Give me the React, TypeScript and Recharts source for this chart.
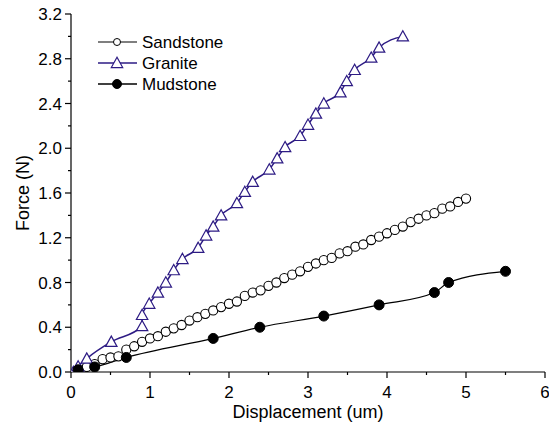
import React from 'react';
import { LineChart, Line, XAxis, YAxis, Label } from 'recharts';

const FONT = '"Liberation Sans", Arial, sans-serif';
const GRANITE_COLOR = '#2D1B84';

const sandstoneX = [0.1, 0.2, 0.3, 0.4, 0.5, 0.6, 0.7, 0.8, 0.9, 1.0, 1.1, 1.2, 1.3, 1.4, 1.5, 1.6, 1.7, 1.8, 1.9, 2.0, 2.1, 2.2, 2.3, 2.4, 2.5, 2.6, 2.7, 2.8, 2.9, 3.0, 3.1, 3.2, 3.3, 3.4, 3.5, 3.6, 3.7, 3.8, 3.9, 4.0, 4.1, 4.2, 4.3, 4.4, 4.5, 4.6, 4.7, 4.8, 4.9, 5.0];
const sandstoneY = [0.02, 0.045, 0.07, 0.115, 0.13, 0.14, 0.2, 0.23, 0.27, 0.3, 0.32, 0.36, 0.39, 0.42, 0.46, 0.49, 0.52, 0.55, 0.58, 0.61, 0.63, 0.68, 0.71, 0.73, 0.77, 0.8, 0.84, 0.87, 0.9, 0.94, 0.97, 1.0, 1.02, 1.06, 1.08, 1.12, 1.14, 1.18, 1.21, 1.24, 1.27, 1.3, 1.34, 1.37, 1.4, 1.42, 1.46, 1.48, 1.52, 1.55];

const graniteX = [0.03, 0.09, 0.2, 0.51, 0.9, 0.9, 0.99, 1.1, 1.2, 1.3, 1.41, 1.61, 1.71, 1.8, 1.9, 2.1, 2.2, 2.3, 2.51, 2.61, 2.71, 2.9, 3.0, 3.1, 3.2, 3.41, 3.49, 3.59, 3.8, 3.9, 4.2];
const graniteY = [0.0, 0.05, 0.12, 0.27, 0.41, 0.51, 0.61, 0.71, 0.8, 0.91, 1.01, 1.11, 1.22, 1.3, 1.4, 1.51, 1.61, 1.7, 1.81, 1.91, 2.01, 2.11, 2.21, 2.31, 2.4, 2.5, 2.6, 2.7, 2.81, 2.9, 3.0];

const mudstoneX = [0.09, 0.3, 0.7, 1.8, 2.39, 3.2, 3.9, 4.6, 4.78, 5.5];
const mudstoneY = [0.02, 0.045, 0.13, 0.3, 0.4, 0.5, 0.6, 0.71, 0.8, 0.9];

const xTicks = [0, 0.5, 1, 1.5, 2, 2.5, 3, 3.5, 4, 4.5, 5, 5.5, 6];
const yTicks = [0, 0.2, 0.4, 0.6, 0.8, 1.0, 1.2, 1.4, 1.6, 1.8, 2.0, 2.2, 2.4, 2.6, 2.8, 3.0, 3.2];

const zip = (xs: number[], ys: number[]) => xs.map((x, i) => ({ x, y: ys[i] }));
const sandstoneData = zip(sandstoneX, sandstoneY);
const graniteData = zip(graniteX, graniteY);
const mudstoneData = zip(mudstoneX, mudstoneY);

const Triangle = ({ cx, cy, color }: any) => {
  const s = 5.7;
  const pts = `${cx},${cy - s} ${cx - s},${cy + s * 0.8} ${cx + s},${cy + s * 0.8}`;
  return <polygon points={pts} fill="#fff" stroke={color} strokeWidth={1.2} />;
};

const graniteDot = (props: any) => {
  const { cx, cy, index } = props;
  if (cx == null || cy == null) return <g key={`g-${index}`} />;
  return <Triangle key={`g-${index}`} cx={cx} cy={cy} color={GRANITE_COLOR} />;
};

const YTick = (props: any) => {
  const { x, y, payload, index } = props;
  const major = index % 2 === 0;
  return (
    <g>
      <line x1={x - (major ? 6 : 3)} x2={x} y1={y} y2={y} stroke="#000" strokeWidth={1.2} />
      {major && (
        <text x={x - 9} y={y} dy="0.36em" textAnchor="end" fontSize={17} fontFamily={FONT} fill="#000">
          {payload.value.toFixed(1)}
        </text>
      )}
    </g>
  );
};

const XTick = (props: any) => {
  const { x, y, payload, index } = props;
  const major = index % 2 === 0;
  return (
    <g>
      <line x1={x} x2={x} y1={y} y2={y + (major ? 6 : 3)} stroke="#000" strokeWidth={1.2} />
      {major && (
        <text x={x} y={y + 26} textAnchor="middle" fontSize={17} fontFamily={FONT} fill="#000">
          {payload.value}
        </text>
      )}
    </g>
  );
};

const legendItems = [
  { name: 'Sandstone', line: '#555', kind: 'open' },
  { name: 'Granite', line: GRANITE_COLOR, kind: 'tri' },
  { name: 'Mudstone', line: '#000', kind: 'filled' },
];

const LegendBox = () => (
  <svg width={170} height={70} style={{ position: 'absolute', left: 98, top: 30, overflow: 'visible' }}>
    {legendItems.map((it, i) => {
      const y = 12 + i * 21;
      return (
        <g key={it.name}>
          <line x1={0} x2={39} y1={y} y2={y} stroke={it.line} strokeWidth={1.5} />
          {it.kind === 'open' && <circle cx={19} cy={y} r={3.5} fill="#fff" stroke="#000" strokeWidth={1} />}
          {it.kind === 'filled' && <circle cx={19} cy={y} r={4.5} fill="#000" stroke="#000" />}
          {it.kind === 'tri' && <Triangle cx={19} cy={y} color={GRANITE_COLOR} />}
          <text x={44} y={y} dy="0.36em" fontSize={17} fontFamily={FONT} fill="#000">
            {it.name}
          </text>
        </g>
      );
    })}
  </svg>
);

const renderYLabel = (props: any) => {
  const vb = props.viewBox || {};
  const cx = 23;
  const cy = (vb.y ?? 14) + (vb.height ?? 358) / 2;
  return (
    <text x={cx} y={cy} transform={`rotate(-90, ${cx}, ${cy})`} textAnchor="middle" dominantBaseline="central" fontSize={18} fontFamily={FONT} fill="#000">
      Force (N)
    </text>
  );
};

const renderXLabel = (props: any) => {
  const vb = props.viewBox || {};
  const cx = (vb.x ?? 71) + (vb.width ?? 474) / 2;
  const y = (vb.y ?? 372) + 46;
  return (
    <text x={cx} y={y} textAnchor="middle" fontSize={18} fontFamily={FONT} fill="#000">
      Displacement (um)
    </text>
  );
};

export default function App() {
  return (
    <div style={{ position: 'absolute', left: 0, top: 0, width: 549, height: 426, background: '#fff' }}>
      <LineChart width={549} height={426} margin={{ top: 14, right: 4, bottom: 0, left: 0 }}>
        <XAxis
          type="number"
          dataKey="x"
          domain={[0, 6]}
          ticks={xTicks}
          interval={0}
          height={54}
          tickSize={0}
          tickMargin={0}
          tickLine={false}
          axisLine={{ stroke: '#000', strokeWidth: 1.2 }}
          tick={<XTick />}
          allowDataOverflow
        >
          <Label content={renderXLabel} />
        </XAxis>
        <YAxis
          type="number"
          dataKey="y"
          domain={[0, 3.2]}
          ticks={yTicks}
          interval={0}
          width={71}
          tickSize={0}
          tickMargin={0}
          tickLine={false}
          axisLine={{ stroke: '#000', strokeWidth: 1.2 }}
          tick={<YTick />}
          allowDataOverflow
        >
          <Label content={renderYLabel} />
        </YAxis>
        <Line
          data={sandstoneData}
          dataKey="y"
          name="Sandstone"
          type="monotone"
          stroke="#555"
          strokeWidth={1}
          dot={{ r: 4.6, fill: '#fff', stroke: '#000', strokeWidth: 1.1 }}
          activeDot={false}
          isAnimationActive={false}
        />
        <Line
          data={graniteData}
          dataKey="y"
          name="Granite"
          type="monotone"
          stroke={GRANITE_COLOR}
          strokeWidth={1.5}
          dot={graniteDot}
          activeDot={false}
          isAnimationActive={false}
        />
        <Line
          data={mudstoneData}
          dataKey="y"
          name="Mudstone"
          type="monotone"
          stroke="#000"
          strokeWidth={1.2}
          dot={{ r: 5, fill: '#000', stroke: '#000', strokeWidth: 1 }}
          activeDot={false}
          isAnimationActive={false}
        />
      </LineChart>
      <LegendBox />
    </div>
  );
}
